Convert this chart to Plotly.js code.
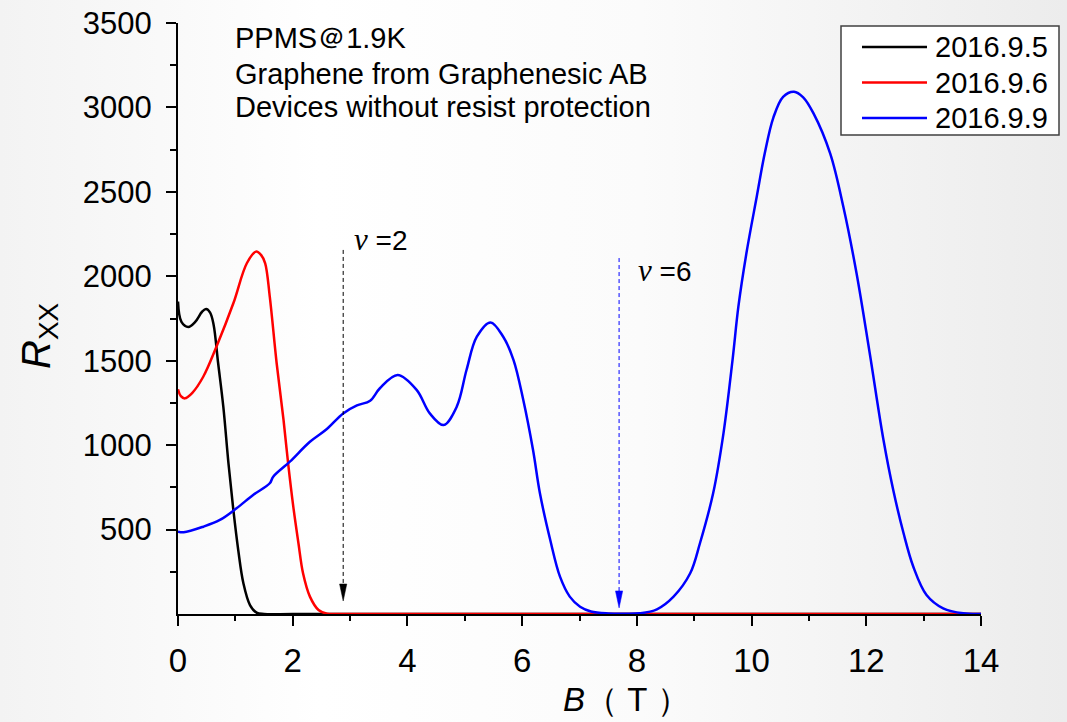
<!DOCTYPE html>
<html>
<head>
<meta charset="utf-8">
<script src="https://cdn.plot.ly/plotly-3.0.1.min.js"></script>
<style>html,body{margin:0;padding:0;background:#fff;}#chart{width:1067px;height:722px;}</style>
</head>
<body>
<div id="chart"></div>
<script>
// ---------- data ----------
const seriesNames = ['2016.9.5', '2016.9.6', '2016.9.9'];
const seriesColors = ['#000000', '#ff0000', '#0000ff'];

const b1 = [0, 0.06, 0.18, 0.30, 0.42, 0.49, 0.56, 0.62, 0.70, 0.79, 0.88, 0.965, 1.05, 1.14, 1.255, 1.37, 1.50, 2, 4, 6, 8, 10, 12, 14];
const r1 = [1850, 1730, 1700, 1730, 1790, 1806, 1785, 1715, 1485, 1228, 892, 616, 379, 182, 53, 8, 0, 0, 0, 0, 0, 0, 0, 0];

const b2 = [0, 0.05, 0.12, 0.25, 0.44, 0.67, 0.965, 1.20, 1.36, 1.45, 1.52, 1.60, 1.72, 1.84, 1.92, 2.01, 2.10, 2.18, 2.30, 2.45, 2.60, 2.80, 4, 6, 8, 10, 12, 14];
const r2 = [1331, 1290, 1277, 1310, 1405, 1583, 1840, 2077, 2146, 2125, 2077, 1879, 1485, 1149, 892, 636, 419, 241, 103, 24, 2, 0, 0, 0, 0, 0, 0, 0];

const b3 = [0, 0.10, 0.44, 0.73, 1.02, 1.31, 1.60, 1.66, 1.95, 2.30, 2.59, 2.88, 3.12, 3.35, 3.52, 3.83, 4.16, 4.39, 4.63, 4.86, 5.03, 5.21, 5.45, 5.67, 5.85, 6.02, 6.19, 6.31, 6.49, 6.66, 6.83, 7.01, 7.20, 7.50, 7.80, 8.05, 8.35, 8.64, 8.93, 9.10, 9.33, 9.51, 9.67, 9.77, 9.91, 10.09, 10.23, 10.38, 10.55, 10.74, 10.90, 11.08, 11.37, 11.60, 11.83, 12.06, 12.30, 12.47, 12.65, 12.82, 13.05, 13.34, 13.69, 14];
const r3 = [488, 484, 517, 557, 626, 705, 774, 813, 902, 1020, 1094, 1188, 1235, 1263, 1337, 1415, 1327, 1188, 1119, 1228, 1445, 1642, 1727, 1642, 1504, 1267, 971, 715, 438, 221, 103, 43, 15, 3, 1, 4, 28, 103, 241, 419, 715, 1070, 1510, 1820, 2136, 2471, 2728, 2940, 3063, 3093, 3060, 2965, 2728, 2412, 2018, 1544, 1030, 734, 478, 280, 113, 34, 4, 0];

const xTickVals = [0, 2, 4, 6, 8, 10, 12, 14];
const xMinorVals = [1, 3, 5, 7, 9, 11, 13];
const yTickVals = [500, 1000, 1500, 2000, 2500, 3000, 3500];
const yTickText = ['500', '1000', '1500', '2000', '2500', '3000', '3500'];
const yMinorVals = [250, 750, 1250, 1750, 2250, 2750, 3250];

// filling-factor markers
const nuLabels = ['2', '6'];
const nuB = [2.88, 7.69];
const nuTop = [2156, 2108];
const nuTip = [77, 36];
const nuColors = ['#000000', '#0000ff'];
const nuLabelB = [3.03, 7.98];
const nuLabelR = [2215, 2037];

const noteLines = ['PPMS＠1.9K', 'Graphene from Graphenesic AB', 'Devices without resist protection'];

// ---------- layout geometry ----------
const FW = 1067, FH = 722, ML = 178, MR = 86, MT = 23, MB = 108;
const PW = FW - ML - MR, PH = FH - MT - MB;
const px = v => (v - ML) / PW;
const py = v => (FH - MB - v) / PH;
const FONT = 'Liberation Sans, Arial, sans-serif';

const bx = [b1, b2, b3], ry = [r1, r2, r3];
const traces = bx.map((b, i) => ({
  x: b, y: ry[i], type: 'scatter', mode: 'lines', name: seriesNames[i],
  line: {color: seriesColors[i], width: 2.5, shape: 'spline', smoothing: 1},
  showlegend: false, hoverinfo: 'skip'
}));

const shapes = [];
const annotations = [];

// arrows
nuB.forEach((b, i) => {
  shapes.push({type: 'line', xref: 'x', yref: 'y', x0: b, x1: b, y0: nuTop[i], y1: nuTip[i] + 60,
    line: {color: nuColors[i], width: 1, dash: '4px,3px'}});
  shapes.push({type: 'path', xref: 'x', yref: 'y', xsizemode: 'pixel', ysizemode: 'pixel',
    xanchor: b, yanchor: nuTip[i], path: 'M-3.6,17 L3.6,17 L0,0 Z',
    fillcolor: nuColors[i], line: {color: nuColors[i], width: 0.5}});
  annotations.push({xref: 'x', yref: 'y', x: nuLabelB[i], y: nuLabelR[i], xanchor: 'left', yanchor: 'middle',
    showarrow: false, font: {family: FONT, size: 28, color: '#000'},
    text: '<span style="font-family:Liberation Serif,serif;font-size:31px"><i>ν</i></span> =' + nuLabels[i]});
});

// note text
const noteY = [38, 74, 107];
noteLines.forEach((t, i) => {
  annotations.push({xref: 'paper', yref: 'paper', x: px(233), y: py(noteY[i]), xanchor: 'left', yanchor: 'middle',
    showarrow: false, text: t, font: {family: FONT, size: 29, color: '#000'}});
});

// legend (drawn)
shapes.push({type: 'rect', xref: 'paper', yref: 'paper', x0: px(841), x1: px(1059), y0: py(135), y1: py(26),
  fillcolor: '#ffffff', line: {color: '#404040', width: 1.5}, layer: 'above'});
const legY = [47, 82.5, 118];
seriesNames.forEach((n, i) => {
  shapes.push({type: 'line', xref: 'paper', yref: 'paper', x0: px(862), x1: px(927), y0: py(legY[i]), y1: py(legY[i]),
    line: {color: seriesColors[i], width: 2.5}, layer: 'above'});
  annotations.push({xref: 'paper', yref: 'paper', x: px(933), y: py(legY[i]), xanchor: 'left', yanchor: 'middle',
    showarrow: false, text: n, font: {family: FONT, size: 29, color: '#000'}});
});

// axis titles
annotations.push({xref: 'paper', yref: 'paper', x: px(39), y: py(336), xanchor: 'center', yanchor: 'middle',
  textangle: -90, showarrow: false, text: '<i>R</i><sub>XX</sub>', font: {family: FONT, size: 40, color: '#000'}});
annotations.push({xref: 'paper', yref: 'paper', x: px(561), y: py(699), xanchor: 'left', yanchor: 'middle',
  showarrow: false,
  text: '<i>B</i>（\u00A0T\u00A0）',
  font: {family: FONT, size: 33, color: '#000'}});

// background gradient
const svg = "<svg xmlns='http://www.w3.org/2000/svg' width='1067' height='722'><defs>" +
  "<linearGradient id='g' x1='0' x2='1' y1='0' y2='0'>" +
  "<stop offset='0' stop-color='#f3f3f3'/><stop offset='0.3' stop-color='#ffffff'/>" +
  "<stop offset='0.6' stop-color='#fbfbfb'/><stop offset='1' stop-color='#ececec'/></linearGradient></defs>" +
  "<rect width='1067' height='722' fill='url(#g)'/></svg>";

const layout = {
  width: FW, height: FH,
  margin: {l: ML, r: MR, t: MT, b: MB, pad: 0},
  paper_bgcolor: '#f6f6f6', plot_bgcolor: 'rgba(0,0,0,0)',
  showlegend: false,
  font: {family: FONT, color: '#000'},
  images: [{source: 'data:image/svg+xml;charset=utf-8,' + encodeURIComponent(svg),
    xref: 'paper', yref: 'paper', x: -ML / PW, y: 1 + MT / PH, sizex: FW / PW, sizey: FH / PH,
    sizing: 'stretch', xanchor: 'left', yanchor: 'top', layer: 'below'}],
  xaxis: {
    range: [0, 14], tickmode: 'array', tickvals: xTickVals,
    ticks: 'outside', ticklen: 10, tickwidth: 2, tickcolor: '#000',
    minor: {tickmode: 'array', tickvals: xMinorVals, ticks: 'outside', ticklen: 5, tickwidth: 2, tickcolor: '#000'},
    showline: true, linewidth: 2, linecolor: '#000', showgrid: false, zeroline: false,
    tickfont: {family: FONT, size: 33, color: '#000'}, ticklabelstandoff: 6,
    layer: 'below traces', fixedrange: true
  },
  yaxis: {
    range: [0, 3500], tickmode: 'array', tickvals: yTickVals, ticktext: yTickText,
    ticks: 'outside', ticklen: 10, tickwidth: 2, tickcolor: '#000',
    minor: {tickmode: 'array', tickvals: yMinorVals, ticks: 'outside', ticklen: 6, tickwidth: 2, tickcolor: '#000'},
    showline: true, linewidth: 2, linecolor: '#000', showgrid: false, zeroline: false,
    tickfont: {family: FONT, size: 31, color: '#000'}, ticklabelstandoff: 8,
    layer: 'below traces', fixedrange: true
  },
  shapes: shapes,
  annotations: annotations
};

Plotly.newPlot('chart', traces, layout, {displayModeBar: false, staticPlot: true});
</script>
</body>
</html>
